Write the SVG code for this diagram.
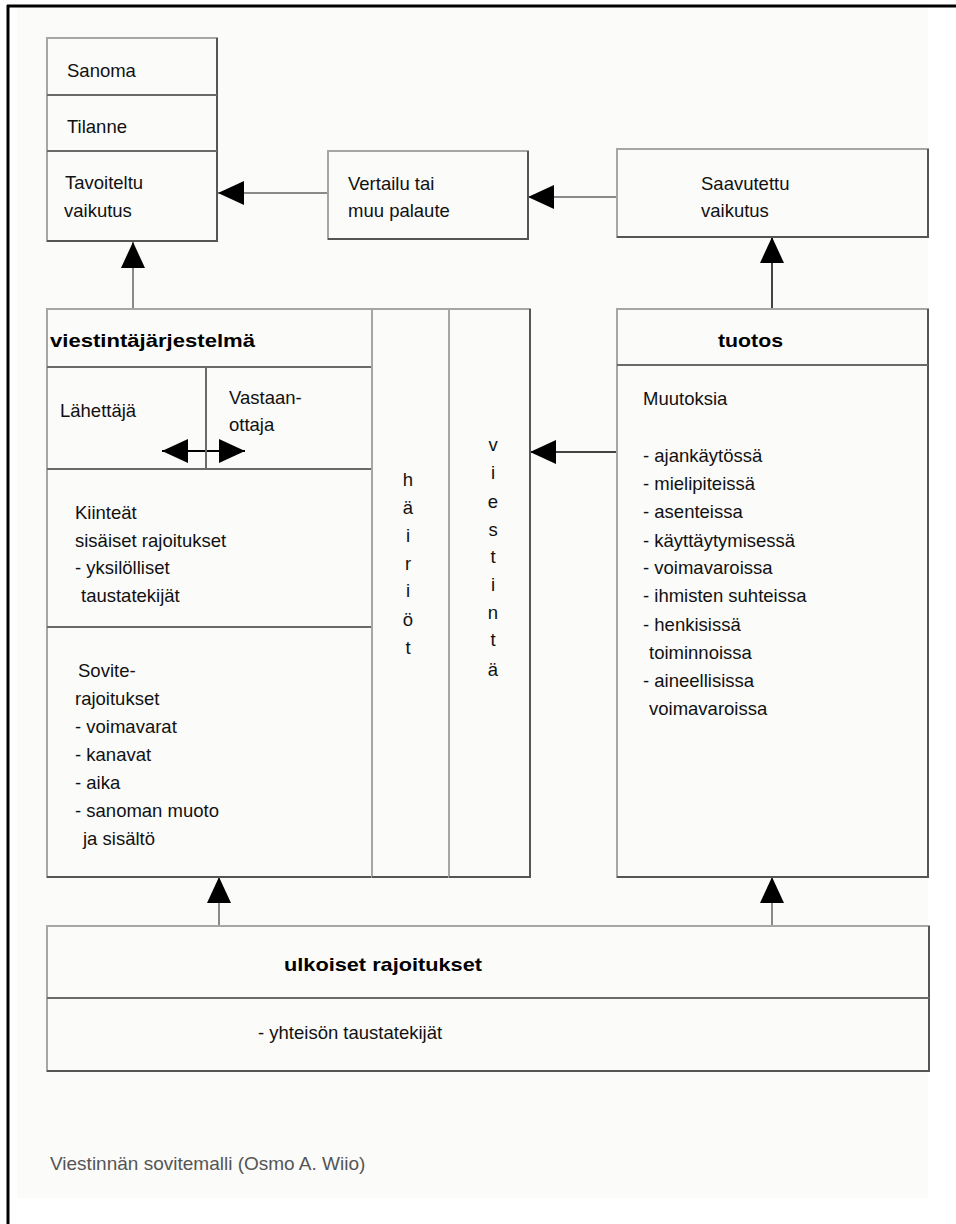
<svg xmlns="http://www.w3.org/2000/svg" width="956" height="1224" viewBox="0 0 956 1224">
<style>
.box{fill:none;stroke:#a6a6a6;stroke-width:2}
.dk{fill:none;stroke:#555;stroke-width:2}
.dv{stroke:#6a6a6a;stroke-width:2}
.con{stroke:#8a8a8a;stroke-width:2;fill:none}
.t{font-family:"Liberation Sans",Arial,sans-serif;font-size:18.5px;fill:#111}
.b{font-family:"Liberation Sans",Arial,sans-serif;font-size:19px;font-weight:bold;fill:#000}
.v{text-anchor:middle}
</style>
<defs>
<marker id="ah" markerUnits="userSpaceOnUse" markerWidth="27" markerHeight="24" refX="26" refY="12" orient="auto-start-reverse">
<path d="M0,0 L26,12 L0,24 z" fill="#000"/>
</marker>
</defs>
<rect x="0" y="0" width="956" height="1224" fill="#fff"/>
<rect x="17" y="7" width="911" height="1191" fill="#fbfbf9"/>
<line x1="8" y1="5" x2="8" y2="1224" stroke="#000" stroke-width="3"/>
<line x1="7" y1="6" x2="956" y2="6" stroke="#000" stroke-width="3"/>

<g id="connectors">
<line class="con" x1="133" y1="309" x2="133" y2="242" marker-end="url(#ah)"/>
<line class="con" x1="328" y1="193" x2="218" y2="193" marker-end="url(#ah)"/>
<line class="con" x1="617" y1="197" x2="528" y2="197" marker-end="url(#ah)"/>
<line class="con" x1="772" y1="309" x2="772" y2="237" marker-end="url(#ah)" style="stroke:#444"/>
<line class="con" x1="617" y1="452" x2="530" y2="452" marker-end="url(#ah)" style="stroke:#444"/>
<line class="con" x1="219" y1="926" x2="219" y2="877" marker-end="url(#ah)"/>
<line class="con" x1="772" y1="926" x2="772" y2="877" marker-end="url(#ah)"/>
<line class="con" x1="162" y1="451" x2="245" y2="451" marker-start="url(#ah)" marker-end="url(#ah)" style="stroke:#000"/>
</g>

<g id="tavoite-stack">
<rect class="box" x="47" y="38" width="170" height="203"/>
<path class="dk" d="M217,38 V241 H47"/>
<line class="dv" x1="47" y1="95" x2="217" y2="95"/>
<line class="dv" x1="47" y1="151" x2="217" y2="151"/>
<text class="t" x="67" y="77">Sanoma</text>
<text class="t" x="67" y="133">Tilanne</text>
<text class="t" x="65" y="189">Tavoiteltu</text>
<text class="t" x="64" y="217">vaikutus</text>
</g>

<g id="vertailu">
<rect class="box" x="328" y="151" width="200" height="88"/>
<path class="dk" d="M528,151 V239 H328"/>
<text class="t" x="348" y="190">Vertailu tai</text>
<text class="t" x="348" y="217">muu palaute</text>
</g>

<g id="saavutettu">
<rect class="box" x="617" y="149" width="311" height="88"/>
<path class="dk" d="M928,149 V237 H617"/>
<text class="t" x="701" y="190">Saavutettu</text>
<text class="t" x="701" y="217">vaikutus</text>
</g>

<g id="viestintajarjestelma">
<rect class="box" x="47" y="309" width="325" height="568"/>
<path class="dk" d="M372,309 V877 H47"/>
<line class="dv" x1="47" y1="367" x2="372" y2="367"/>
<line class="dv" x1="47" y1="469" x2="372" y2="469"/>
<line class="dv" x1="47" y1="627" x2="372" y2="627"/>
<line class="dv" x1="206" y1="367" x2="206" y2="469"/>
<text class="b" x="50" y="347" textLength="205" lengthAdjust="spacingAndGlyphs">viestintäjärjestelmä</text>
<text class="t" x="60" y="417">Lähettäjä</text>
<text class="t" x="229" y="404">Vastaan-</text>
<text class="t" x="229" y="431">ottaja</text>
<text class="t" x="75" y="519">Kiinteät</text>
<text class="t" x="75" y="547">sisäiset rajoitukset</text>
<text class="t" x="75" y="574">- yksilölliset</text>
<text class="t" x="81" y="602">taustatekijät</text>
<text class="t" x="78" y="677">Sovite-</text>
<text class="t" x="75" y="705">rajoitukset</text>
<text class="t" x="75" y="733">- voimavarat</text>
<text class="t" x="75" y="761">- kanavat</text>
<text class="t" x="75" y="789">- aika</text>
<text class="t" x="75" y="817">- sanoman muoto</text>
<text class="t" x="83" y="845">ja sisältö</text>
</g>

<g id="hairiot">
<rect class="box" x="372" y="309" width="77" height="568"/>
<path class="dk" d="M449,309 V877 H372"/>
<text class="t v" x="408" y="486">h</text>
<text class="t v" x="408" y="514">ä</text>
<text class="t v" x="408" y="542">i</text>
<text class="t v" x="408" y="570">r</text>
<text class="t v" x="408" y="597">i</text>
<text class="t v" x="408" y="626">ö</text>
<text class="t v" x="408" y="654">t</text>
</g>

<g id="viestinta">
<rect class="box" x="449" y="309" width="81" height="568"/>
<path class="dk" d="M530,309 V877 H449"/>
<text class="t v" x="493" y="451">v</text>
<text class="t v" x="493" y="479">i</text>
<text class="t v" x="493" y="508">e</text>
<text class="t v" x="493" y="536">s</text>
<text class="t v" x="493" y="563">t</text>
<text class="t v" x="493" y="591">i</text>
<text class="t v" x="493" y="619">n</text>
<text class="t v" x="493" y="646">t</text>
<text class="t v" x="493" y="676">ä</text>
</g>

<g id="tuotos">
<rect class="box" x="617" y="309" width="311" height="568"/>
<path class="dk" d="M928,309 V877 H617"/>
<line class="dv" x1="617" y1="365" x2="928" y2="365"/>
<text class="b" x="718" y="347" textLength="65" lengthAdjust="spacingAndGlyphs">tuotos</text>
<text class="t" x="643" y="405">Muutoksia</text>
<text class="t" x="643" y="462">- ajankäytössä</text>
<text class="t" x="643" y="490">- mielipiteissä</text>
<text class="t" x="643" y="518">- asenteissa</text>
<text class="t" x="643" y="547">- käyttäytymisessä</text>
<text class="t" x="643" y="574">- voimavaroissa</text>
<text class="t" x="643" y="602">- ihmisten suhteissa</text>
<text class="t" x="643" y="631">- henkisissä</text>
<text class="t" x="649" y="659">toiminnoissa</text>
<text class="t" x="643" y="687">- aineellisissa</text>
<text class="t" x="649" y="715">voimavaroissa</text>
</g>

<g id="ulkoiset">
<rect class="box" x="47" y="926" width="882" height="145"/>
<path class="dk" d="M929,926 V1071 H47"/>
<line class="dv" x1="47" y1="998" x2="929" y2="998"/>
<text class="b" x="284" y="971" textLength="198" lengthAdjust="spacingAndGlyphs">ulkoiset rajoitukset</text>
<text class="t" x="258" y="1039">- yhteisön taustatekijät</text>
</g>

<g id="caption">
<text class="t" x="50" y="1170" style="fill:#555;font-size:19px">Viestinnän sovitemalli (Osmo A. Wiio)</text>
</g>
</svg>
